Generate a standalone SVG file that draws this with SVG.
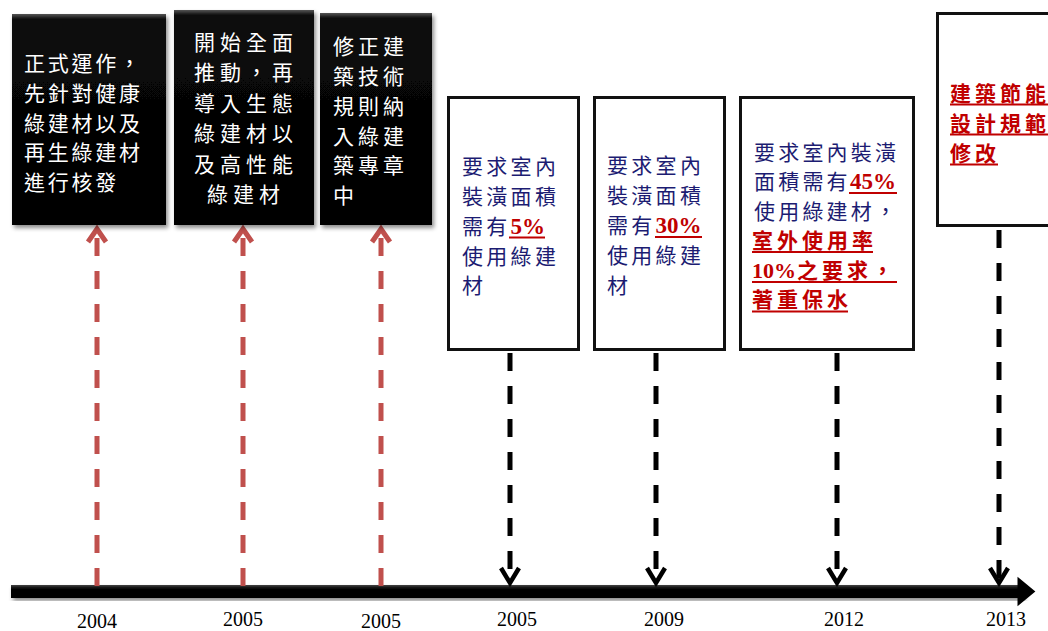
<svg xmlns="http://www.w3.org/2000/svg" width="1048" height="631" viewBox="0 0 1048 631">
<defs>
<linearGradient id="gBlack" x1="0" y1="0" x2="0" y2="1">
<stop offset="0" stop-color="#555"/>
<stop offset="0.025" stop-color="#0a0a0a"/>
<stop offset="1" stop-color="#000"/>
</linearGradient>
<linearGradient id="gBar" x1="0" y1="0" x2="0" y2="1">
<stop offset="0" stop-color="#444"/>
<stop offset="0.3" stop-color="#000"/>
<stop offset="1" stop-color="#000"/>
</linearGradient>
<filter id="shadow" x="-10%" y="-10%" width="130%" height="130%">
<feDropShadow dx="2" dy="3" stdDeviation="2" flood-color="#000" flood-opacity="0.45"/>
</filter>
</defs>
<style>
.bbox{fill:url(#gBlack);filter:url(#shadow)}
.wbox{fill:#fff;stroke:#111;stroke-width:3}
.cjk{font-family:"Noto Sans CJK TC","Noto Sans CJK SC",sans-serif;font-size:21px}
.wt{fill:#fff}
.nv{fill:#1C1C72;letter-spacing:3.3px}
.rd{fill:#C00000;font-weight:bold}
.num{font-family:"Liberation Serif","Times New Roman",serif;font-weight:bold;font-size:23px;fill:#C00000;letter-spacing:0}
.ul{stroke:#C00000;stroke-width:1.8}
.yr{font-family:"Liberation Serif","Times New Roman",serif;font-size:20px;fill:#000;text-anchor:middle}
.rdash{stroke:#C0504D;stroke-width:5;stroke-dasharray:18 15;fill:none}
.rhead{stroke:#C0504D;stroke-width:5;fill:none;stroke-linejoin:miter}
.kdash{stroke:#000;stroke-width:5;stroke-dasharray:18 15;fill:none}
.khead{stroke:#000;stroke-width:4.5;fill:none;stroke-linejoin:miter}
</style>

<g id="timeline">
<rect x="11" y="585" width="1012" height="13" fill="url(#gBar)" filter="url(#shadow)"/>
<polygon points="1019,580 1033,591.5 1019,603" fill="#000" stroke="#000" stroke-width="3" stroke-linejoin="miter"/>
</g>

<g id="connectors">
<line class="rdash" x1="97" y1="238" x2="97" y2="586"/>
<polyline class="rhead" points="88,242 97,229 106,242"/>
<line class="rdash" x1="243" y1="238" x2="243" y2="586"/>
<polyline class="rhead" points="234,242 243,229 252,242"/>
<line class="rdash" x1="381" y1="238" x2="381" y2="586"/>
<polyline class="rhead" points="372,242 381,229 390,242"/>
<line class="kdash" x1="510" y1="353" x2="510" y2="583"/>
<polyline class="khead" points="501,568 510,583 519,568"/>
<line class="kdash" x1="656" y1="353" x2="656" y2="583"/>
<polyline class="khead" points="647,568 656,583 665,568"/>
<line class="kdash" x1="837" y1="353" x2="837" y2="583"/>
<polyline class="khead" points="828,568 837,583 846,568"/>
<line class="kdash" x1="999" y1="230" x2="999" y2="583"/>
<polyline class="khead" points="990,568 999,583 1008,568"/>
</g>

<g id="node-2004">
<rect class="bbox" x="12" y="14" width="154" height="211"/>
<text class="cjk wt" style="letter-spacing:2.75px">
<tspan x="24" y="71.4">正式運作，</tspan>
<tspan x="24" y="101.4">先針對健康</tspan>
<tspan x="24" y="131.4">綠建材以及</tspan>
<tspan x="24" y="160.4">再生綠建材</tspan>
<tspan x="24" y="190.4">進行核發</tspan>
</text>
</g>

<g id="node-2005a">
<rect class="bbox" x="174" y="10" width="140" height="215"/>
<text class="cjk wt" style="letter-spacing:5px">
<tspan x="194" y="50">開始全面</tspan>
<tspan x="194" y="80.4">推動，再</tspan>
<tspan x="194" y="110.9">導入生態</tspan>
<tspan x="194" y="141.4">綠建材以</tspan>
<tspan x="194" y="171.9">及高性能</tspan>
<tspan x="207" y="202.4">綠建材</tspan>
</text>
</g>

<g id="node-2005b">
<rect class="bbox" x="320" y="13" width="112" height="212"/>
<text class="cjk wt" style="letter-spacing:4px">
<tspan x="333" y="54.4">修正建</tspan>
<tspan x="333" y="84.1">築技術</tspan>
<tspan x="333" y="113.8">規則納</tspan>
<tspan x="333" y="143.5">入綠建</tspan>
<tspan x="333" y="173.2">築專章</tspan>
<tspan x="333" y="202.9">中</tspan>
</text>
</g>

<g id="node-2005c">
<rect class="wbox" x="448.5" y="97.5" width="130" height="252"/>
<text class="cjk nv">
<tspan x="462" y="174">要求室內</tspan>
<tspan x="462" y="204">裝潢面積</tspan>
<tspan x="462" y="234">需有</tspan><tspan class="num" x="510.6" y="234">5%</tspan>
<tspan x="462" y="264">使用綠建</tspan>
<tspan x="462" y="293">材</tspan>
</text>
<line class="ul" x1="509" y1="237.5" x2="545" y2="237.5"/>
</g>

<g id="node-2009">
<rect class="wbox" x="594.5" y="97.5" width="130" height="252"/>
<text class="cjk nv">
<tspan x="607" y="173.4">要求室內</tspan>
<tspan x="607" y="203.4">裝潢面積</tspan>
<tspan x="607" y="233.4">需有</tspan><tspan class="num" x="655.6" y="233.4">30%</tspan>
<tspan x="607" y="263.4">使用綠建</tspan>
<tspan x="607" y="293">材</tspan>
</text>
<line class="ul" x1="655" y1="237" x2="702" y2="237"/>
</g>

<g id="node-2012">
<rect class="wbox" x="740.5" y="97.5" width="173" height="252"/>
<text class="cjk nv" style="letter-spacing:3.2px">
<tspan x="754" y="160">要求室內裝潢</tspan>
<tspan x="754" y="189.4">面積需有</tspan><tspan class="num" x="850" y="189.4">45%</tspan>
<tspan x="754" y="219">使用綠建材，</tspan>
</text>
<text class="cjk rd" style="letter-spacing:4px">
<tspan x="752" y="248.4">室外使用率</tspan>
<tspan class="num" style="font-size:22px" x="752" y="278">10%</tspan><tspan x="797" y="278">之要求，</tspan>
<tspan x="752" y="307.4">著重保水</tspan>
</text>
<line class="ul" x1="849" y1="193" x2="897" y2="193"/>
<line class="ul" x1="752" y1="252" x2="873" y2="252"/>
<line class="ul" x1="752" y1="282" x2="897" y2="282"/>
<line class="ul" x1="752" y1="311.5" x2="848" y2="311.5"/>
</g>

<g id="node-2013">
<rect class="wbox" x="937.5" y="13.5" width="120" height="212"/>
<text class="cjk rd" style="letter-spacing:4px">
<tspan x="950" y="101">建築節能</tspan>
<tspan x="950" y="131">設計規範</tspan>
<tspan x="950" y="161">修改</tspan>
</text>
<line class="ul" x1="950" y1="104.5" x2="1048" y2="104.5"/>
<line class="ul" x1="950" y1="134.5" x2="1048" y2="134.5"/>
<line class="ul" x1="950" y1="164.5" x2="998" y2="164.5"/>
</g>

<g id="years">
<text class="yr" x="97" y="628">2004</text>
<text class="yr" x="243" y="626">2005</text>
<text class="yr" x="381" y="628">2005</text>
<text class="yr" x="517" y="626">2005</text>
<text class="yr" x="664" y="626">2009</text>
<text class="yr" x="844" y="626">2012</text>
<text class="yr" x="1006" y="626">2013</text>
</g>
</svg>
